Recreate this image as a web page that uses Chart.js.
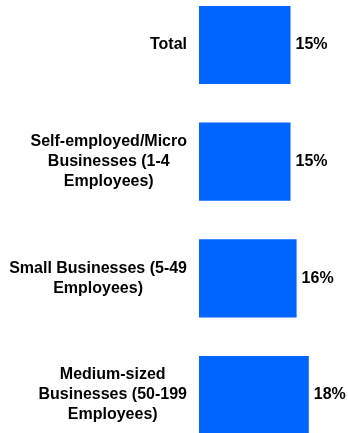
<!DOCTYPE html>
<html>
<head>
<meta charset="utf-8">
<script src="https://cdn.jsdelivr.net/npm/chart.js@4/dist/chart.umd.min.js"></script>
<style>
  html, body { margin: 0; padding: 0; background: #fff; }
  #wrap { width: 348px; height: 433px; }
</style>
</head>
<body>
<div id="wrap"><canvas id="c" width="348" height="433"></canvas></div>
<script>
// Business size groups (each entry is one label, split into its lines)
const categories = [
  ['Total'],
  ['Self-employed/Micro', 'Businesses (1-4', 'Employees)'],
  ['Small Businesses (5-49', 'Employees)'],
  ['Medium-sized', 'Businesses (50-199', 'Employees)']
];
// Share in percent
const shares = [15, 15, 16, 18];

const FONT = 'bold 16px "Liberation Sans", Arial, sans-serif';
const LINE_H = 20;

// Category labels: each block right-aligned next to the axis, lines centred within the block
const categoryLabels = {
  id: 'categoryLabels',
  afterDraw(chart) {
    const ctx = chart.ctx;
    const y = chart.scales.y;
    const right = chart.chartArea.left - 12;
    ctx.save();
    ctx.font = FONT;
    ctx.fillStyle = '#000';
    ctx.textAlign = 'center';
    ctx.textBaseline = 'middle';
    categories.forEach((lines, i) => {
      const cy = y.getPixelForValue(i);
      const w = Math.max(...lines.map(l => ctx.measureText(l).width));
      const cx = right - w / 2;
      const top = cy - (lines.length - 1) * LINE_H / 2;
      lines.forEach((l, k) => ctx.fillText(l, cx, top + k * LINE_H));
    });
    ctx.restore();
  }
};

// Percentage value printed just past the end of each bar
const valueLabels = {
  id: 'valueLabels',
  afterDatasetsDraw(chart) {
    const ctx = chart.ctx;
    const meta = chart.getDatasetMeta(0);
    ctx.save();
    ctx.font = FONT;
    ctx.fillStyle = '#000';
    ctx.textAlign = 'left';
    ctx.textBaseline = 'middle';
    meta.data.forEach((bar, i) => {
      ctx.fillText(shares[i] + '%', bar.x + 5, bar.y);
    });
    ctx.restore();
  }
};

new Chart(document.getElementById('c'), {
  type: 'bar',
  data: {
    labels: categories,
    datasets: [{
      data: shares,
      backgroundColor: '#0064ff',
      borderWidth: 0,
      categoryPercentage: 1,
      barPercentage: 0.67,
      clip: false
    }]
  },
  options: {
    indexAxis: 'y',
    responsive: false,
    animation: false,
    devicePixelRatio: 1,
    layout: { padding: { left: 199, right: 2.6, top: 45, bottom: 38 } },
    plugins: {
      legend: { display: false },
      tooltip: { enabled: false }
    },
    scales: {
      x: { display: false, min: 0, max: 24 },
      y: { display: false, offset: false }
    }
  },
  plugins: [categoryLabels, valueLabels]
});
</script>
</body>
</html>
